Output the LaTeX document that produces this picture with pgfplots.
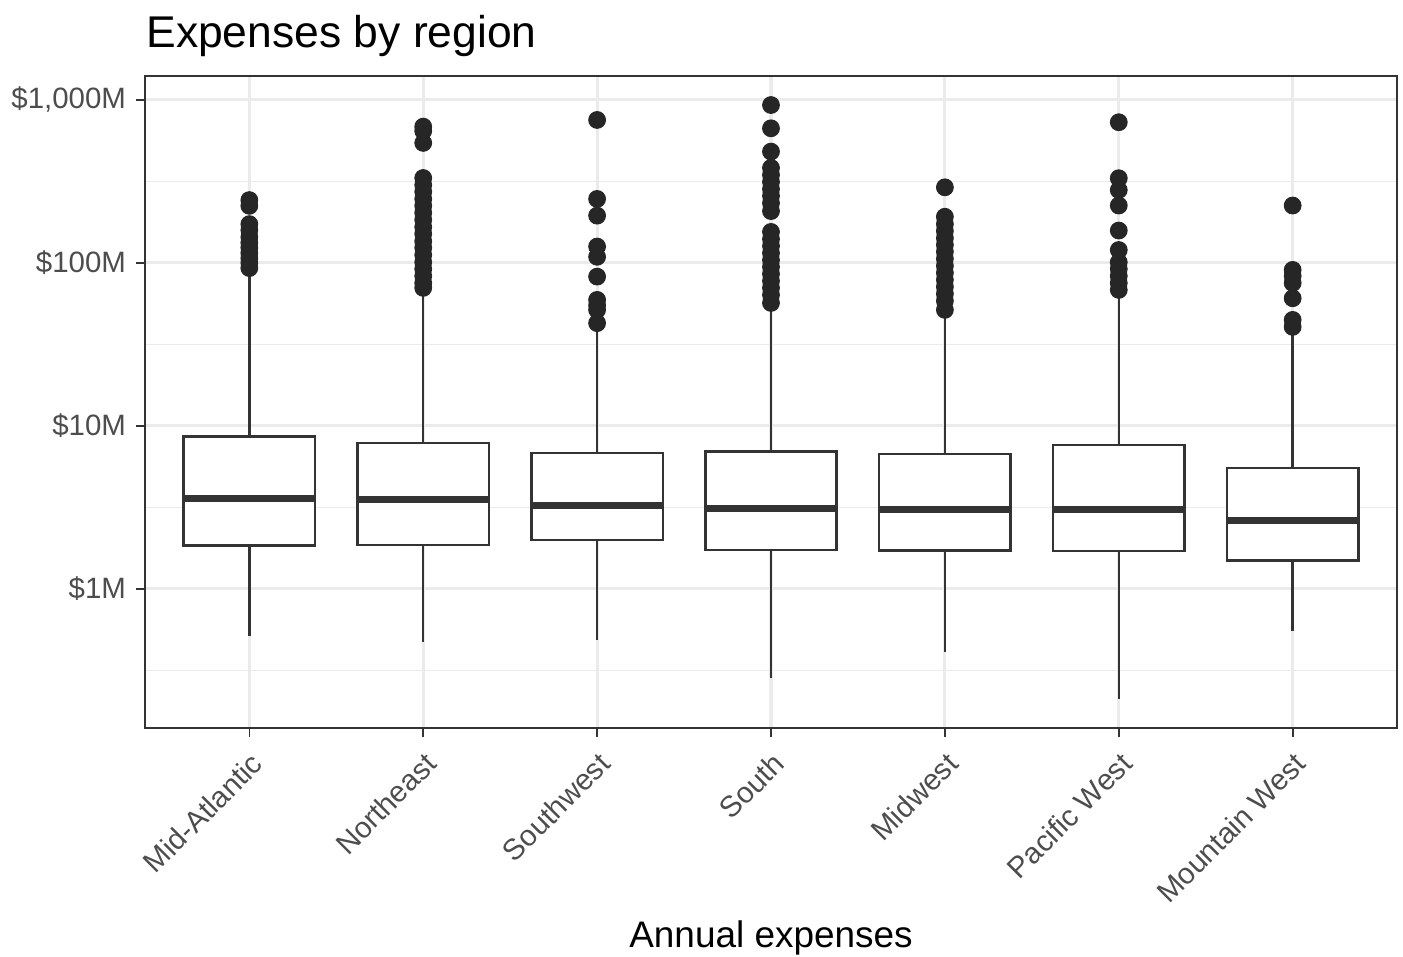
\documentclass[border=0pt]{standalone}
\usepackage{fontspec}
\setmainfont{Liberation Sans}
\usepackage{pgfplots}
\pgfplotsset{compat=1.18}
\usepgfplotslibrary{statistics}
\definecolor{gtwenty}{HTML}{333333}
\definecolor{gthirty}{HTML}{4D4D4D}
\definecolor{gridc}{HTML}{EBEBEB}
\definecolor{dotc}{HTML}{262626}
\pgfplotsset{
  bx/.style={draw=gtwenty, fill=white, line width=0.9pt,
    boxplot/every median/.style={line width=2.4pt}},
  outl/.style={only marks, mark=*, mark size=3pt, color=dotc, mark options={draw=dotc, fill=dotc}}
}
\begin{document}
\begin{tikzpicture}
\path[use as bounding box] (-52.2pt,-82.44pt) rectangle (452.86pt,262.06pt);
\begin{axis}[
  at={(0,0)}, anchor=south west,
  scale only axis, width=450.7pt, height=234.7pt,
  ymode=log, xmin=-0.6, xmax=6.6, ymin=0.14, ymax=1403,
  xtick={0,1,2,3,4,5,6},
  xticklabels={Mid-Atlantic,Northeast,Southwest,South,Midwest,Pacific West,Mountain West},
  ytick={1,10,100,1000},
  yticklabels={\$1M,\$10M,\$100M,{\$1,000M}},
  minor ytick={0.316227766,3.16227766,31.6227766,316.227766},
  xmajorgrids, ymajorgrids, yminorgrids,
  major grid style={gridc, line width=1.1pt},
  minor grid style={gridc, line width=0.55pt},
  axis line style={gtwenty, line width=0.6pt},
  tick align=outside, major tick length=3.3pt, minor tick length=0pt,
  tick style={gtwenty, line width=0.6pt},
  xtick pos=bottom, ytick pos=left,
  x tick label style={rotate=45, anchor=north east, font=\fontsize{10.6}{12}\selectfont, text=gthirty},
  y tick label style={font=\fontsize{10.6}{12}\selectfont, text=gthirty},
  boxplot/draw direction=y,
]
% boxes
\addplot[bx, boxplot prepared={draw position=0, lower whisker=0.515, lower quartile=1.84, median=3.60, upper quartile=8.6, upper whisker=88, box extend=0.755, whisker extend=0}] coordinates {};
\addplot[bx, boxplot prepared={draw position=1, lower whisker=0.469, lower quartile=1.86, median=3.55, upper quartile=7.83, upper whisker=66, box extend=0.755, whisker extend=0}] coordinates {};
\addplot[bx, boxplot prepared={draw position=2, lower whisker=0.486, lower quartile=2.0, median=3.26, upper quartile=6.80, upper whisker=40, box extend=0.755, whisker extend=0}] coordinates {};
\addplot[bx, boxplot prepared={draw position=3, lower whisker=0.283, lower quartile=1.73, median=3.11, upper quartile=6.96, upper whisker=53, box extend=0.755, whisker extend=0}] coordinates {};
\addplot[bx, boxplot prepared={draw position=4, lower whisker=0.412, lower quartile=1.72, median=3.08, upper quartile=6.70, upper whisker=48, box extend=0.755, whisker extend=0}] coordinates {};
\addplot[bx, boxplot prepared={draw position=5, lower whisker=0.211, lower quartile=1.71, median=3.08, upper quartile=7.64, upper whisker=65, box extend=0.755, whisker extend=0}] coordinates {};
\addplot[bx, boxplot prepared={draw position=6, lower whisker=0.552, lower quartile=1.49, median=2.62, upper quartile=5.50, upper whisker=37, box extend=0.755, whisker extend=0}] coordinates {};
% outliers
\addplot[outl] coordinates {(0,243) (0,224) (0,173) (0,159) (0,144) (0,133) (0,124) (0,115) (0,107) (0,100) (0,93)};
\addplot[outl] coordinates {(1,686) (1,645) (1,545) (1,332) (1,301) (1,273) (1,247) (1,224) (1,203) (1,184) (1,166) (1,151) (1,136) (1,124) (1,112) (1,101) (1,91.9) (1,83.2) (1,75.4) (1,70.3)};
\addplot[outl] coordinates {(2,754) (2,247) (2,195) (2,126) (2,109) (2,82.4) (2,59.3) (2,55) (2,51.5) (2,42.7)};
\addplot[outl] coordinates {(3,931) (3,670) (3,482) (3,383) (3,347) (3,314) (3,284) (3,258) (3,233) (3,208) (3,155) (3,140) (3,127) (3,115) (3,104) (3,94.5) (3,85.6) (3,77.6) (3,70.3) (3,63.6) (3,56.8)};
\addplot[outl] coordinates {(4,291) (4,192) (4,173) (4,157) (4,142) (4,129) (4,117) (4,106) (4,95.9) (4,86.9) (4,78.7) (4,71.3) (4,64.6) (4,58.5) (4,51.5)};
\addplot[outl] coordinates {(5,730) (5,331) (5,280) (5,225) (5,158) (5,120) (5,101) (5,91.9) (5,83.2) (5,75.4) (5,68.3)};
\addplot[outl] coordinates {(6,225) (6,90.6) (6,83.2) (6,75.3) (6,60.7) (6,44.7) (6,40.5)};
\end{axis}
\node[anchor=base west, font=\fontsize{16}{19}\selectfont, inner sep=0pt] at (0.3pt,245.1pt) {Expenses by region};
\node[anchor=base, font=\fontsize{13.3}{16}\selectfont, inner sep=0pt] at (225.35pt,-79pt) {Annual expenses};
\end{tikzpicture}
\end{document}
